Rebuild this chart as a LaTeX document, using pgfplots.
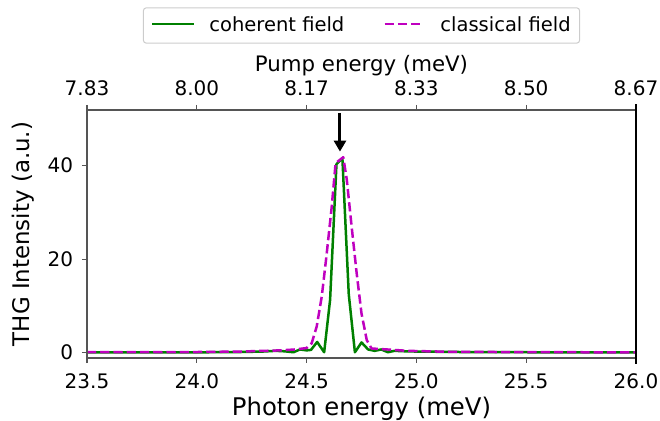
\documentclass[border=0pt]{standalone}
\usepackage{fontspec}
\setmainfont{DejaVu Sans}
\usepackage{pgfplots}
\pgfplotsset{compat=1.18}
\usetikzlibrary{arrows.meta}
\definecolor{mplgreen}{HTML}{008000}
\definecolor{mplmag}{HTML}{BF00BF}
\definecolor{spine}{HTML}{555555}
\definecolor{legedge}{HTML}{CCCCCC}

\begin{document}
\begin{tikzpicture}
\useasboundingbox (-87bp,-63bp) rectangle (573bp,358bp);
\begin{axis}[
 scale only axis, width=549bp, height=248bp,
 xmin=23.5, xmax=26, ymin=-1.13, ymax=51.9,
 xtick={23.5,24,24.5,25,25.5,26},
 xticklabels={23.5,24.0,24.5,25.0,25.5,26.0},
 ytick={0,20,40}, yticklabels={0,20,40},
 tick align=outside, major tick length=5bp,
 xtick pos=bottom, ytick pos=left,
 every tick/.style={spine, line width=1.2bp},
 axis line style={spine, line width=1.2bp},
 tick label style={font=\fontsize{20bp}{24bp}\selectfont, inner sep=0pt},
 xticklabel style={anchor=base, yshift=-25bp},
 yticklabel style={anchor=east, xshift=-8.7bp},
 xlabel={Photon energy (meV)},
 xlabel style={at={([yshift=-57.5bp]axis description cs:0.5,0)}, anchor=base, font=\fontsize{24.3bp}{28bp}\selectfont, inner sep=0pt},
 ylabel={THG Intensity (a.u.)},
 ylabel style={at={([xshift=-57bp]axis description cs:0,0.5)}, anchor=base, font=\fontsize{22.9bp}{27bp}\selectfont, inner sep=0pt},
 legend columns=2,
 legend cell align=left,
 legend style={at={([yshift=102.7bp]axis description cs:0.5,1)}, anchor=north,
   draw=legedge, line width=1bp, rounded corners=3bp, inner xsep=9bp, inner ysep=8.6bp,
   font=\fontsize{19.5bp}{23bp}\selectfont,
   nodes={inner sep=0pt, text height=14.8bp, text depth=3.4bp},
   /tikz/every odd column/.append style={column sep=15.6bp},
   /tikz/every even column/.append style={column sep=39bp}},
 legend image code/.code={\draw[#1] (0bp,1.7bp) -- (39bp,1.7bp);},
]
\addplot[mplgreen, line width=2.5bp, line join=round, line cap=rect] coordinates {
(23.50,0.05) (23.80,0.06) (24.00,0.08) (24.20,0.15) (24.30,0.25) (24.36,0.4)
(24.40,0.3) (24.44,0.1) (24.47,0.7) (24.50,0.5) (24.52,0.6) (24.548,2.3)
(24.58,0.1) (24.607,11.3) (24.636,40.3) (24.663,41.6) (24.692,12.5) (24.72,0.1)
(24.75,2.2) (24.78,0.7) (24.81,0.4) (24.84,0.7) (24.87,0.1) (24.90,0.4)
(24.95,0.3) (25.00,0.25) (25.20,0.15) (25.50,0.1) (26.00,0.05)
};
\addlegendentry{coherent field}
\addplot[mplmag, line width=2.5bp, line join=round, dash pattern=on 9.25bp off 4bp] coordinates {
(23.50,0.1) (24.00,0.15) (24.20,0.25) (24.38,0.5) (24.45,0.7) (24.50,1.0)
(24.523,2.0) (24.546,5.6) (24.569,12) (24.59,20.5) (24.614,31) (24.632,40.5)
(24.645,41) (24.667,41.8) (24.683,37) (24.705,27) (24.728,17) (24.75,8.4)
(24.774,2.7) (24.796,0.9) (24.83,0.8) (24.865,0.7) (24.96,0.4) (25.15,0.2)
(25.5,0.12) (26.0,0.08)
};
\addlegendentry{classical field}
\addplot[black, line width=3bp, -{Triangle[length=11bp,width=12bp]}, forget plot] coordinates {(24.652,51.3) (24.652,43.0)};
\end{axis}
\begin{axis}[
 scale only axis, width=549bp, height=248bp,
 xmin=23.5, xmax=26, ymin=0, ymax=1,
 axis x line*=top, axis y line=none,
 xtick={23.5,24,24.5,25,25.5,26},
 xticklabels={7.83,8.00,8.17,8.33,8.50,8.67},
 tick align=outside, major tick length=5bp,
 every tick/.style={spine, line width=1.2bp},
 axis line style={spine, line width=1.2bp},
 tick label style={font=\fontsize{20bp}{24bp}\selectfont, inner sep=0pt},
 xticklabel style={anchor=base, yshift=9bp},
 xlabel={Pump energy (meV)},
 xlabel style={at={([yshift=38.3bp]axis description cs:0.5,1)}, anchor=base, font=\fontsize{21.3bp}{25bp}\selectfont, inner sep=0pt},
]
\addplot[draw=none] coordinates {(23.5,0.5) (26,0.5)};
\end{axis}
\draw[spine, line width=1.2bp] (0,-5bp) -- (0,253bp);
\draw[black, line width=1.2bp] (549bp,-5.5bp) -- (549bp,254bp);
\end{tikzpicture}
\end{document}
